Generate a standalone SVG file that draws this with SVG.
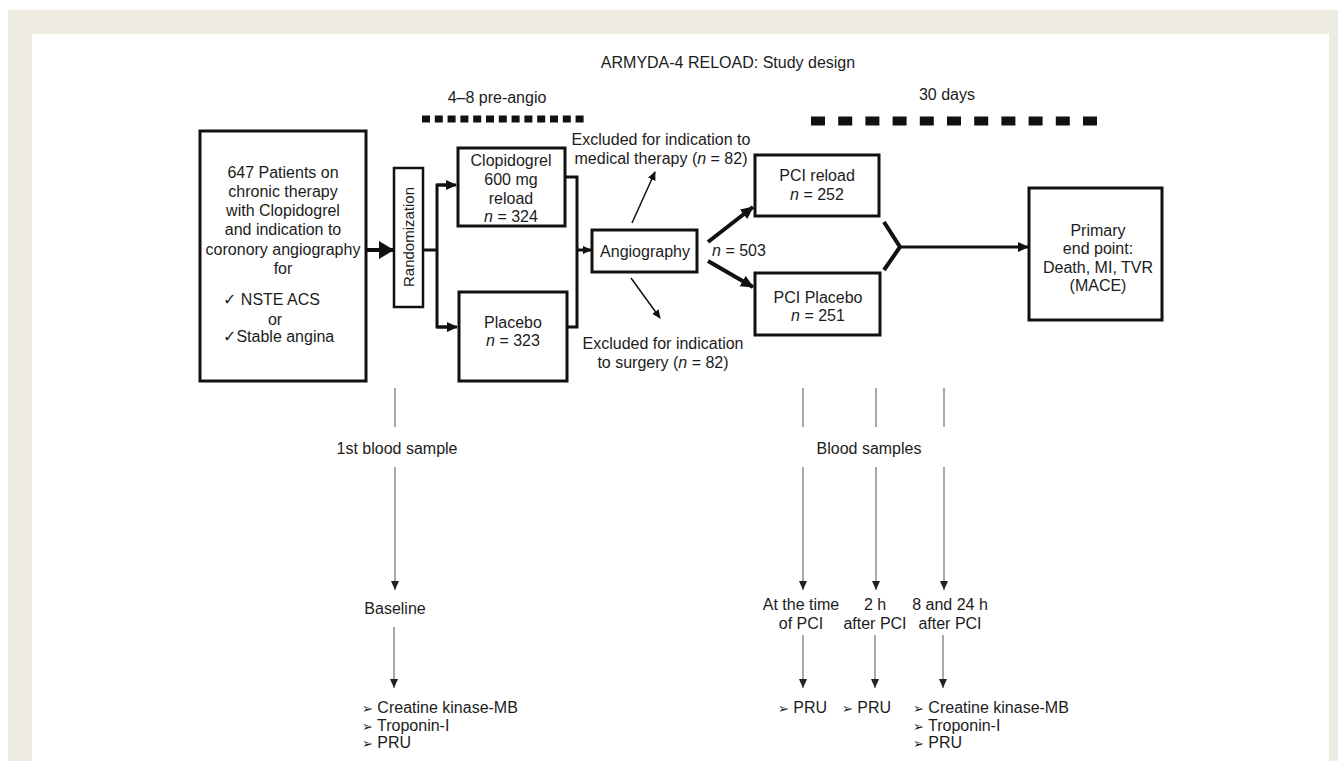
<svg xmlns="http://www.w3.org/2000/svg" width="1338" height="761" viewBox="0 0 1338 761">
<style>
text{font-family:"Liberation Sans",Arial,"DejaVu Sans",sans-serif;font-size:16px;fill:#1c1c1c}
.m{text-anchor:middle}
.box{fill:#fff;stroke:#111;stroke-width:3}
.thick{fill:none;stroke:#111;stroke-width:4}
.med{fill:none;stroke:#111;stroke-width:3}
.thin{fill:none;stroke:#111;stroke-width:1.5}
.gray{fill:none;stroke:#555;stroke-width:1}
.sym{font-family:"DejaVu Sans",sans-serif;font-size:13px}
.it{font-style:italic}
</style>
<defs>
<marker id="big" markerUnits="userSpaceOnUse" markerWidth="16" markerHeight="18" refX="14" refY="9" orient="auto"><path d="M0,0 L15,9 L0,18 Z" fill="#111"/></marker>
<marker id="ah" markerUnits="userSpaceOnUse" markerWidth="12" markerHeight="12" refX="10" refY="6" orient="auto"><path d="M0,1 L11,6 L0,11 Z" fill="#111"/></marker>
<marker id="ahw" markerUnits="userSpaceOnUse" markerWidth="14" markerHeight="14" refX="12" refY="7" orient="auto"><path d="M0,1 L13,7 L0,13 Z" fill="#111"/></marker>
<marker id="sm" markerUnits="userSpaceOnUse" markerWidth="10" markerHeight="10" refX="8" refY="5" orient="auto"><path d="M0,1 L9,5 L0,9 Z" fill="#111"/></marker>
<marker id="gm" markerUnits="userSpaceOnUse" markerWidth="10" markerHeight="10" refX="9" refY="4.5" orient="auto"><path d="M0,0.5 L9,4.5 L0,8.5 Z" fill="#222"/></marker>
</defs>
<rect x="0" y="0" width="1338" height="761" fill="#fff"/>
<rect x="8" y="10" width="1330" height="751" fill="#eeebe1"/>
<rect x="32" y="34" width="1297" height="727" fill="#fff"/>

<text class="m" x="728" y="68">ARMYDA-4 RELOAD: Study design</text>
<text class="m" x="497" y="103">4–8 pre-angio</text>
<text class="m" x="947" y="100">30 days</text>
<line x1="422" y1="119" x2="584" y2="119" stroke="#111" stroke-width="7" stroke-dasharray="8 4.8"/>
<line x1="811" y1="121" x2="1097" y2="121" stroke="#111" stroke-width="9" stroke-dasharray="14 13.2"/>

<g id="connectors">
<line class="thick" x1="366" y1="250" x2="393" y2="250" marker-end="url(#big)"/>
<polyline class="med" points="423,250 437,250"/>
<polyline class="med" points="453,185 437,185 437,327 454,327"/>
<line class="med" x1="437" y1="185" x2="456" y2="185" marker-end="url(#ah)"/>
<line class="med" x1="437" y1="327" x2="457" y2="327" marker-end="url(#ah)"/>
<polyline class="med" points="565,177 577,177 577,327 567,327"/>
<line class="med" x1="577" y1="250" x2="591" y2="250" marker-end="url(#sm)"/>
<line class="thin" x1="632" y1="223" x2="655" y2="172" marker-end="url(#sm)"/>
<line class="thin" x1="631" y1="278" x2="660" y2="318" marker-end="url(#sm)"/>
<line class="thick" x1="708" y1="242" x2="753" y2="207" marker-end="url(#ahw)"/>
<line class="thick" x1="708" y1="261" x2="753" y2="287" marker-end="url(#ahw)"/>
<polyline class="thick" points="884,222 900,247 884,270"/>
<line class="med" x1="900" y1="247" x2="1028" y2="247" marker-end="url(#ah)"/>
<line class="gray" x1="395" y1="388" x2="395" y2="427"/>
<line class="gray" x1="395" y1="467" x2="395" y2="590" marker-end="url(#gm)"/>
<line class="gray" x1="394" y1="627" x2="394" y2="688" marker-end="url(#gm)"/>
<line class="gray" x1="803" y1="388" x2="803" y2="427"/>
<line class="gray" x1="876" y1="388" x2="876" y2="427"/>
<line class="gray" x1="944" y1="388" x2="944" y2="427"/>
<line class="gray" x1="803" y1="467" x2="803" y2="590" marker-end="url(#gm)"/>
<line class="gray" x1="876" y1="467" x2="876" y2="590" marker-end="url(#gm)"/>
<line class="gray" x1="944" y1="467" x2="944" y2="590" marker-end="url(#gm)"/>
<line class="gray" x1="803" y1="635" x2="803" y2="688" marker-end="url(#gm)"/>
<line class="gray" x1="875" y1="635" x2="875" y2="688" marker-end="url(#gm)"/>
<line class="gray" x1="943" y1="635" x2="943" y2="688" marker-end="url(#gm)"/>
</g>

<g id="patients">
<rect class="box" x="200" y="131" width="166" height="250"/>
<text class="m" x="283" y="178">647 Patients on</text>
<text class="m" x="283" y="197">chronic therapy</text>
<text class="m" x="283" y="216">with Clopidogrel</text>
<text class="m" x="283" y="235">and indication to</text>
<text class="m" x="283" y="255">coronory angiography</text>
<text class="m" x="283" y="274">for</text>
<text x="223" y="305">✓ NSTE ACS</text>
<text class="m" x="275" y="325">or</text>
<text x="223" y="342">✓Stable angina</text>
</g>

<g id="randomization">
<rect x="394" y="168" width="29" height="139" fill="#fff" stroke="#111" stroke-width="2.5"/>
<text class="m" transform="translate(414,237) rotate(-90)" x="0" y="0" style="font-size:15px">Randomization</text>
</g>

<g id="clopidogrel">
<rect class="box" x="458" y="148" width="107" height="78"/>
<text class="m" x="511" y="166">Clopidogrel</text>
<text class="m" x="511" y="185">600 mg</text>
<text class="m" x="511" y="204">reload</text>
<text class="m" x="511" y="222"><tspan class="it">n</tspan> = 324</text>
</g>

<g id="placebo">
<rect class="box" x="459" y="292" width="108" height="89"/>
<text class="m" x="513" y="328">Placebo</text>
<text class="m" x="513" y="346"><tspan class="it">n</tspan> = 323</text>
</g>

<g id="angiography">
<rect class="box" x="592" y="230" width="105" height="42"/>
<text class="m" x="645" y="257">Angiography</text>
</g>

<g id="excluded-medical">
<text class="m" x="661" y="145">Excluded for indication to</text>
<text class="m" x="661" y="164">medical therapy (<tspan class="it">n</tspan> = 82)</text>
</g>

<g id="excluded-surgery">
<text class="m" x="663" y="349">Excluded for indication</text>
<text class="m" x="663" y="368">to surgery (<tspan class="it">n</tspan> = 82)</text>
</g>

<g id="n503">
<text class="m" x="739" y="256"><tspan class="it">n</tspan> = 503</text>
</g>

<g id="pci-reload">
<rect class="box" x="755" y="155" width="124" height="61"/>
<text class="m" x="817" y="181">PCI reload</text>
<text class="m" x="817" y="200"><tspan class="it">n</tspan> = 252</text>
</g>

<g id="pci-placebo">
<rect class="box" x="755" y="273" width="125" height="62"/>
<text class="m" x="818" y="303">PCI Placebo</text>
<text class="m" x="818" y="321"><tspan class="it">n</tspan> = 251</text>
</g>

<g id="endpoint">
<rect class="box" x="1029" y="188" width="133" height="132"/>
<text class="m" x="1098" y="236">Primary</text>
<text class="m" x="1098" y="254">end point:</text>
<text class="m" x="1098" y="273">Death, MI, TVR</text>
<text class="m" x="1098" y="291">(MACE)</text>
</g>

<g id="first-sample">
<text class="m" x="397" y="454">1st blood sample</text>
<text class="m" x="395" y="614">Baseline</text>
<text x="362" y="713"><tspan class="sym">➢</tspan> Creatine kinase-MB</text>
<text x="362" y="731"><tspan class="sym">➢</tspan> Troponin-I</text>
<text x="362" y="748"><tspan class="sym">➢</tspan> PRU</text>
</g>

<g id="blood-samples">
<text class="m" x="869" y="454">Blood samples</text>
<text class="m" x="801" y="610">At the time</text>
<text class="m" x="801" y="629">of PCI</text>
<text class="m" x="875" y="610">2 h</text>
<text class="m" x="875" y="629">after PCI</text>
<text class="m" x="950" y="610">8 and 24 h</text>
<text class="m" x="950" y="629">after PCI</text>
<text x="778" y="713"><tspan class="sym">➢</tspan> PRU</text>
<text x="842" y="713"><tspan class="sym">➢</tspan> PRU</text>
<text x="913" y="713"><tspan class="sym">➢</tspan> Creatine kinase-MB</text>
<text x="913" y="731"><tspan class="sym">➢</tspan> Troponin-I</text>
<text x="913" y="748"><tspan class="sym">➢</tspan> PRU</text>
</g>
</svg>
